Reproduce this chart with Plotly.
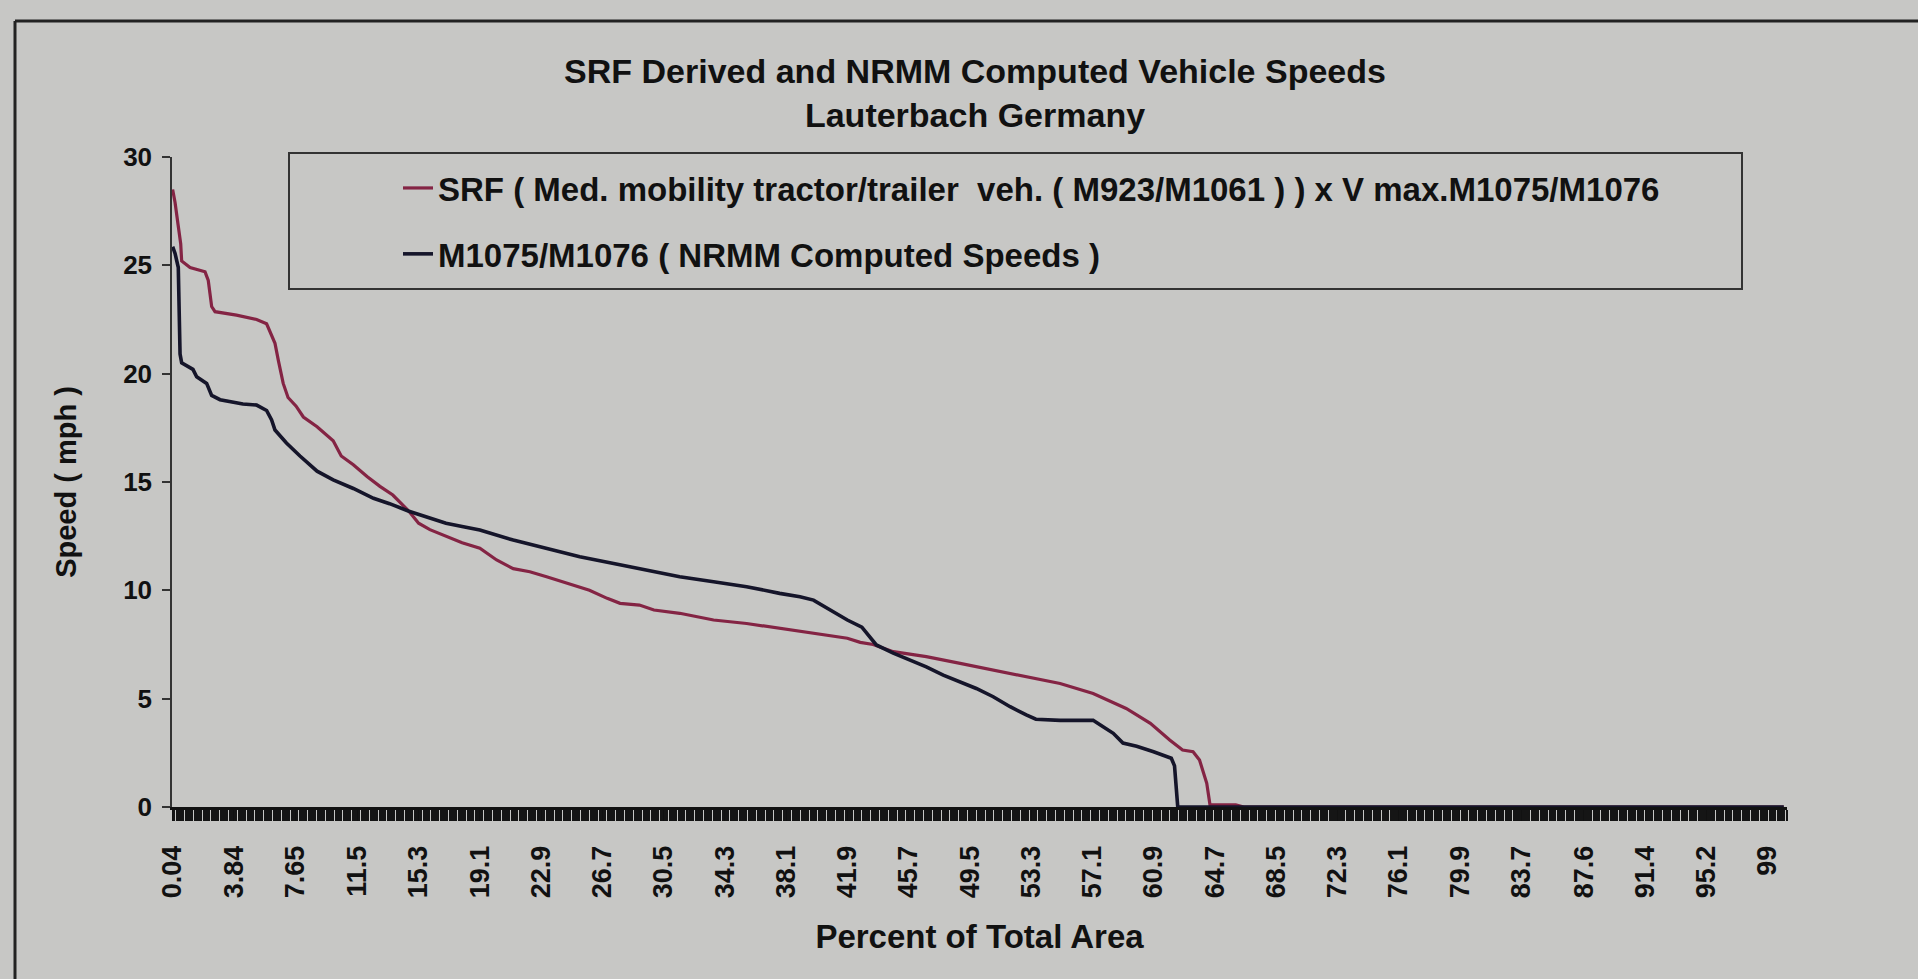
import plotly.graph_objects as go

# ---- data ----
tick_labels = ["0.04", "3.84", "7.65", "11.5", "15.3", "19.1", "22.9", "26.7", "30.5",
               "34.3", "38.1", "41.9", "45.7", "49.5", "53.3", "57.1", "60.9", "64.7",
               "68.5", "72.3", "76.1", "79.9", "83.7", "87.6", "91.4", "95.2", "99"]
tick_positions = [float(t) for t in tick_labels]

srf_pct = [0.04, 0.19, 0.39, 0.54, 0.6, 1.12, 2.05, 2.25, 2.46, 2.67, 4.0, 5.25, 5.87, 6.39,
           6.6, 6.9, 7.2, 7.7, 8.15, 9.0, 10.0, 10.5, 11.25, 12.1, 12.9, 13.7, 14.7, 15.3,
           16.0, 17.0, 18.0, 19.1, 20.14, 21.17, 22.2, 23.24, 24.5, 25.9, 27.0, 27.8, 29.0,
           29.9, 31.5, 32.5, 33.6, 35.65, 37.7, 39.8, 41.9, 42.7, 43.5, 44.75, 46.8, 48.9,
           50.95, 53.0, 55.1, 57.15, 59.2, 60.7, 61.9, 62.7, 63.35, 63.75, 64.2, 64.4, 66.0,
           66.5, 100.0]
srf_speed = [28.5, 27.9, 26.8, 26.0, 25.2, 24.9, 24.7, 24.3, 23.1, 22.86, 22.7, 22.5, 22.3, 21.4,
             20.6, 19.55, 18.9, 18.5, 18.0, 17.55, 16.9, 16.2, 15.8, 15.25, 14.8, 14.4, 13.65, 13.1,
             12.8, 12.5, 12.2, 11.94, 11.4, 11.0, 10.86, 10.63, 10.32, 10.0, 9.63, 9.4, 9.32,
             9.09, 8.94, 8.78, 8.63, 8.47, 8.24, 8.0, 7.79, 7.6, 7.5, 7.17, 6.94, 6.63,
             6.32, 6.01, 5.7, 5.24, 4.55, 3.86, 3.09, 2.63, 2.55, 2.17, 1.09, 0.1, 0.1,
             0.0, 0.0]

nrmm_pct = [0.04, 0.19, 0.39, 0.5, 0.6, 1.3, 1.53, 2.15, 2.46, 2.98, 4.4, 5.25, 5.87, 6.18,
            6.39, 7.1, 7.94, 9.0, 10.0, 11.25, 12.5, 13.5, 14.7, 16.0, 17.0, 18.0, 19.1,
            21.17, 23.24, 25.3, 27.4, 29.4, 31.5, 33.6, 35.65, 37.7, 38.96, 39.8, 40.8, 41.9,
            42.8, 43.7, 44.75, 45.8, 46.8, 47.85, 48.9, 49.9, 50.95, 52.0, 53.0, 53.6, 55.1,
            57.15, 57.6, 58.4, 59.0, 59.85, 60.9, 62.0, 62.2, 62.4, 100.0]
nrmm_speed = [25.86, 25.55, 24.9, 20.9, 20.5, 20.2, 19.86, 19.55, 19.0, 18.8, 18.6, 18.55, 18.3, 17.86,
              17.4, 16.8, 16.2, 15.5, 15.1, 14.7, 14.25, 14.0, 13.65, 13.35, 13.1, 12.95, 12.78,
              12.32, 11.94, 11.55, 11.24, 10.94, 10.63, 10.4, 10.17, 9.86, 9.7, 9.55, 9.09, 8.63,
              8.3, 7.48, 7.1, 6.78, 6.47, 6.09, 5.78, 5.47, 5.09, 4.63, 4.25, 4.05, 4.0,
              4.0, 3.78, 3.4, 2.95, 2.8, 2.55, 2.25, 1.9, 0.0, 0.0]

srf_name = "SRF ( Med. mobility tractor/trailer  veh. ( M923/M1061 ) ) x V max.M1075/M1076"
nrmm_name = "M1075/M1076 ( NRMM Computed Speeds )"

# ---- layout geometry (pixels) ----
W, H = 1918, 979
L, R, T, B = 172, 1787, 157, 807
PW, PH = R - L, B - T


def px(x):
    return (x - L) / PW


def py(y):
    return (B - y) / PH


FONT = "Liberation Sans, Arial, sans-serif"
BG = "#c7c7c5"
INK = "#111111"

fig = go.Figure()
fig.add_trace(go.Scatter(x=srf_pct, y=srf_speed, mode="lines", name=srf_name,
                         legendgroup="a",
                         line=dict(color="#842444", width=3.2)))
fig.add_trace(go.Scatter(x=nrmm_pct, y=nrmm_speed, mode="lines", name=nrmm_name,
                         legendgroup="b",
                         line=dict(color="#15152a", width=3.6)))

fig.update_layout(
    width=W, height=H,
    margin=dict(l=L, r=W - R, t=T, b=H - B, autoexpand=False),
    paper_bgcolor=BG, plot_bgcolor=BG,
    font=dict(family=FONT, color=INK, weight="bold"),
    title=dict(text="SRF Derived and NRMM Computed Vehicle Speeds<br>Lauterbach Germany",
               x=975 / W, xref="container", xanchor="center",
               y=1 - 83 / H, yref="container", yanchor="middle",
               font=dict(size=34, family=FONT, color=INK, weight="bold")),
    showlegend=True,
    legend=dict(x=px(398), y=py(160), xanchor="left", yanchor="top",
                bgcolor="rgba(0,0,0,0)", borderwidth=0,
                tracegroupgap=20, traceorder="grouped",
                font=dict(size=33, family=FONT, color=INK, weight="bold")),
    xaxis=dict(range=[0.0, 100.2], tickmode="array", tickvals=tick_positions,
               ticktext=tick_labels, tickangle=-90, showgrid=False, zeroline=False,
               showline=True, linecolor=INK, linewidth=3,
               ticks="outside", ticklen=11, tickwidth=1, tickcolor=INK,
               ticklabelstandoff=14,
               minor=dict(dtick=0.07, tick0=0.04, ticks="outside", ticklen=11,
                          tickwidth=1, tickcolor="#151515", showgrid=False),
               tickfont=dict(size=27, family=FONT, color=INK, weight="bold"),
               title=dict(text="Percent of Total Area", standoff=28,
                          font=dict(size=33, family=FONT, color=INK, weight="bold"))),
    yaxis=dict(range=[0, 30], dtick=5, showgrid=False, zeroline=False,
               showline=True, linecolor="#333333", linewidth=1.5,
               ticks="outside", ticklen=8, tickwidth=1.5, tickcolor="#333333",
               ticklabelstandoff=5,
               tickfont=dict(size=26, family=FONT, color=INK, weight="bold"),
               title=dict(text="Speed ( mph )", standoff=38,
                          font=dict(size=29, family=FONT, color=INK, weight="bold"))),
    shapes=[
        # scanned chart-area border (top and left edges)
        dict(type="line", xref="paper", yref="paper", x0=px(15), y0=py(21), x1=px(1930), y1=py(21),
             line=dict(color="#222222", width=3)),
        dict(type="line", xref="paper", yref="paper", x0=px(15), y0=py(21), x1=px(15), y1=py(990),
             line=dict(color="#222222", width=3)),
        # legend frame
        dict(type="rect", xref="paper", yref="paper", x0=px(289), y0=py(289), x1=px(1742), y1=py(153),
             line=dict(color="#333333", width=2), fillcolor="rgba(0,0,0,0)"),
    ],
)

fig.write_html("out.html", config={"displayModeBar": False},
               post_script="document.body.style.margin='0px';document.body.style.overflow='hidden';")
